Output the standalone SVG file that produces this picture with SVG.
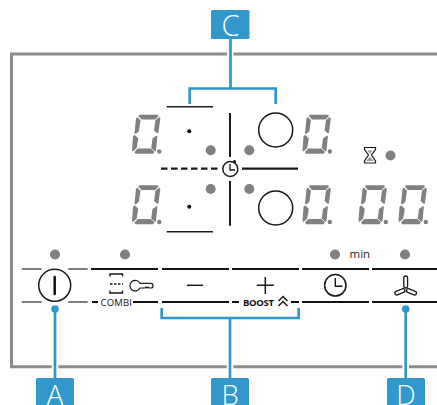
<svg xmlns="http://www.w3.org/2000/svg" width="437" height="405" viewBox="0 0 437 405">
<style>
.bl{stroke:#2f97cb;stroke-width:2.7;fill:none}
.led{fill:#808080}
.k{stroke:#1a1a1a;fill:none}
.bar{stroke:#111;stroke-width:2;fill:none}
.thin{stroke:#555;stroke-width:1.5;fill:none}
.lab{fill:#fff;font-family:"Open Sans",sans-serif;font-weight:300;font-size:29px;text-anchor:middle}
.lab2{font-size:27.500px}
.tag{fill:#3399cc}
.sm{fill:#111;font-family:"Open Sans",sans-serif;font-size:9.500px}
</style>
<defs>
<g id="dig" fill="#808080">
<polygon points="8,0.300 26,0.300 27,1.500 23.500,5 10,5 6.800,1.500"/>
<polygon points="5.800,2.500 9,5.800 7.300,17 4,19.500 3,18.500 4.500,4"/>
<polygon points="27.800,2.500 28.800,4 27,18 26,19 22.500,16 24,5.500"/>
<polygon points="2.800,20.500 4,21 6.800,24 5.200,33.500 1.500,37 0.500,36 1.500,22"/>
<polygon points="25.200,21 25.900,21.700 24.500,36 23.500,37 19.700,33.500 21,24"/>
<polygon points="3,37.500 6.300,34 19.300,34 23,37.500 21.500,39.300 4,39.300"/>
<circle cx="27.800" cy="37" r="2.200"/>
</g>
</defs>
<g id="frame"><path d="M437 54H11.500V366.700H437" fill="none" stroke="#8c8c8c" stroke-width="3"/></g>
<g id="connectors">
<path d="M227 54h6.500M51.700 366.700h6.600M226.700 366.700h6.600M402.400 366.700h6.600" stroke="#fff" stroke-width="5" fill="none"/>
<path class="bl" d="M230.500 39V88.500M189.700 104V88.500H275.700V104"/>
<path class="bl" d="M55 309V378"/><circle cx="55" cy="309" r="3.800" fill="#2f97cb"/>
<path class="bl" d="M230 318V378M161.700 308V318H298.700V308"/>
<path class="bl" d="M405.700 309V378"/><circle cx="405.700" cy="309" r="3.800" fill="#2f97cb"/>
</g>
<g id="label-c"><rect class="tag" x="211" y="10" width="38.500" height="29" rx="1.500"/><text class="lab" x="230.500" y="36">C</text></g>
<g id="label-a"><rect class="tag" x="36" y="378" width="38" height="30" rx="1.500"/><text class="lab lab2" x="55" y="404.500">A</text></g>
<g id="label-b"><rect class="tag" x="211" y="378" width="38" height="30" rx="1.500"/><text class="lab lab2" x="230" y="404.500">B</text></g>
<g id="label-d"><rect class="tag" x="387" y="378" width="38" height="30" rx="1.500"/><text class="lab lab2" x="406" y="404.500">D</text></g>
<g id="digits">
<use href="#dig" x="131.500" y="114.500"/>
<use href="#dig" x="302" y="114.500"/>
<use href="#dig" x="131.500" y="185"/>
<use href="#dig" x="302" y="185"/>
<use href="#dig" x="358" y="185"/>
<use href="#dig" x="398" y="185"/>
</g>
<g id="cooktop">
<path class="k" stroke-width="1.500" d="M166.700 106.700H213M166.700 231.700H213"/>
<path class="k" stroke-width="2" d="M230 113V157M230 181V225.700"/>
<path class="k" stroke-width="2.200" stroke-dasharray="6.500 3.500" d="M161 168.700H218"/>
<path class="k" stroke-width="2.200" d="M242 168.700H298"/>
<circle class="k" stroke-width="1.500" cx="275.700" cy="130" r="17"/>
<circle class="k" stroke-width="1.500" cx="275.700" cy="208" r="17"/>
<circle cx="189.300" cy="131.300" r="2" fill="#111"/>
<circle cx="189.300" cy="206.700" r="2" fill="#111"/>
<circle class="led" cx="210.700" cy="150.300" r="5"/>
<circle class="led" cx="249.300" cy="150.300" r="5"/>
<circle class="led" cx="210.700" cy="189" r="5"/>
<circle class="led" cx="249.300" cy="189" r="5"/>
<circle class="k" stroke-width="1.500" cx="230.300" cy="169" r="7.500"/>
<path class="k" stroke-width="1.300" d="M230 164V170H235"/>
<circle cx="234.500" cy="161.500" r="1.500" fill="#111"/>
</g>
<g id="hourglass">
<path class="k" stroke-width="1.200" d="M364.500 147.500H375.500V149.500L371.500 155L375.500 161V163H364.500V161L368.500 155L364.500 149.500Z"/>
<path d="M366.500 161L370 156.500L373.500 161ZM367.500 150.500H372.500L370 154Z" fill="#999"/>
<circle class="led" cx="390.500" cy="155.500" r="5"/>
</g>
<g id="key-on">
<circle class="led" cx="55" cy="254.500" r="5"/>
<path class="thin" d="M21.700 269H41.700M68.300 269H87.700M21.700 302H41.700M68.300 302H87.700"/>
<circle class="k" stroke-width="1.500" cx="54.700" cy="285.300" r="16"/>
<path stroke="#111" stroke-width="2.500" stroke-linecap="round" d="M54.700 277V294"/>
</g>
<g id="key-combi">
<circle class="led" cx="125" cy="254.500" r="5"/>
<path class="bar" d="M91 269H158M92 302H98M133 302H158"/>
<path class="k" stroke-width="1.400" d="M110 276.500V274H122.500V276.500M110 290.500V293H122.500V290.500"/>
<path class="k" stroke-width="1.400" stroke-dasharray="2.500 1.500" d="M110 284H123"/>
<path class="k" stroke-width="1.200" d="M140 283.300H151Q153 283.300 153 285.700Q153 288 151 288H149L148 287L147 288L146 287L145 288H140A5.300 5.300 0 1 1 140 283.300Z"/>
<text class="sm" x="100.500" y="305.700" textLength="31.500">COMBI</text>
</g>
<g id="key-minus">
<path class="bar" d="M162 269H229M162 302H229"/>
<path class="k" stroke-width="1.500" d="M187 285.300H203"/>
</g>
<g id="key-plus">
<path class="bar" d="M232 269H299M232 302H239M291 302H299"/>
<path class="k" stroke-width="1.500" d="M256.800 285.300H273.800M265.300 277V294"/>
<text class="sm" x="243" y="305.700" font-weight="700" textLength="31">BOOST</text>
<path class="k" stroke-width="1.500" d="M278.500 301L283 296.500L287.500 301M278.500 306L283 301.500L287.500 306"/>
</g>
<g id="key-timer">
<circle class="led" cx="335" cy="254.500" r="5"/>
<text x="349.500" y="258" font-family="'Open Sans',sans-serif" font-size="11.500" fill="#222">min</text>
<path class="bar" d="M302 269H369M302 302H369"/>
<circle class="k" stroke-width="1.500" cx="335.300" cy="285.300" r="10.700"/>
<path class="k" stroke-width="1.400" d="M335.300 278V286.300H342.500"/>
</g>
<g id="key-fan">
<circle class="led" cx="405" cy="254.500" r="5"/>
<path class="bar" d="M372 269H437M372 302H437"/>
<g class="k" stroke-width="1.300">
<rect x="403.800" y="276" width="3.800" height="12" rx="1.900"/>
<rect x="403.800" y="278" width="3.800" height="10.500" rx="1.900" transform="rotate(112 405.700 289.500)"/>
<rect x="403.800" y="278" width="3.800" height="10.500" rx="1.900" transform="rotate(248 405.700 289.500)"/>
</g>
</g>
</svg>
